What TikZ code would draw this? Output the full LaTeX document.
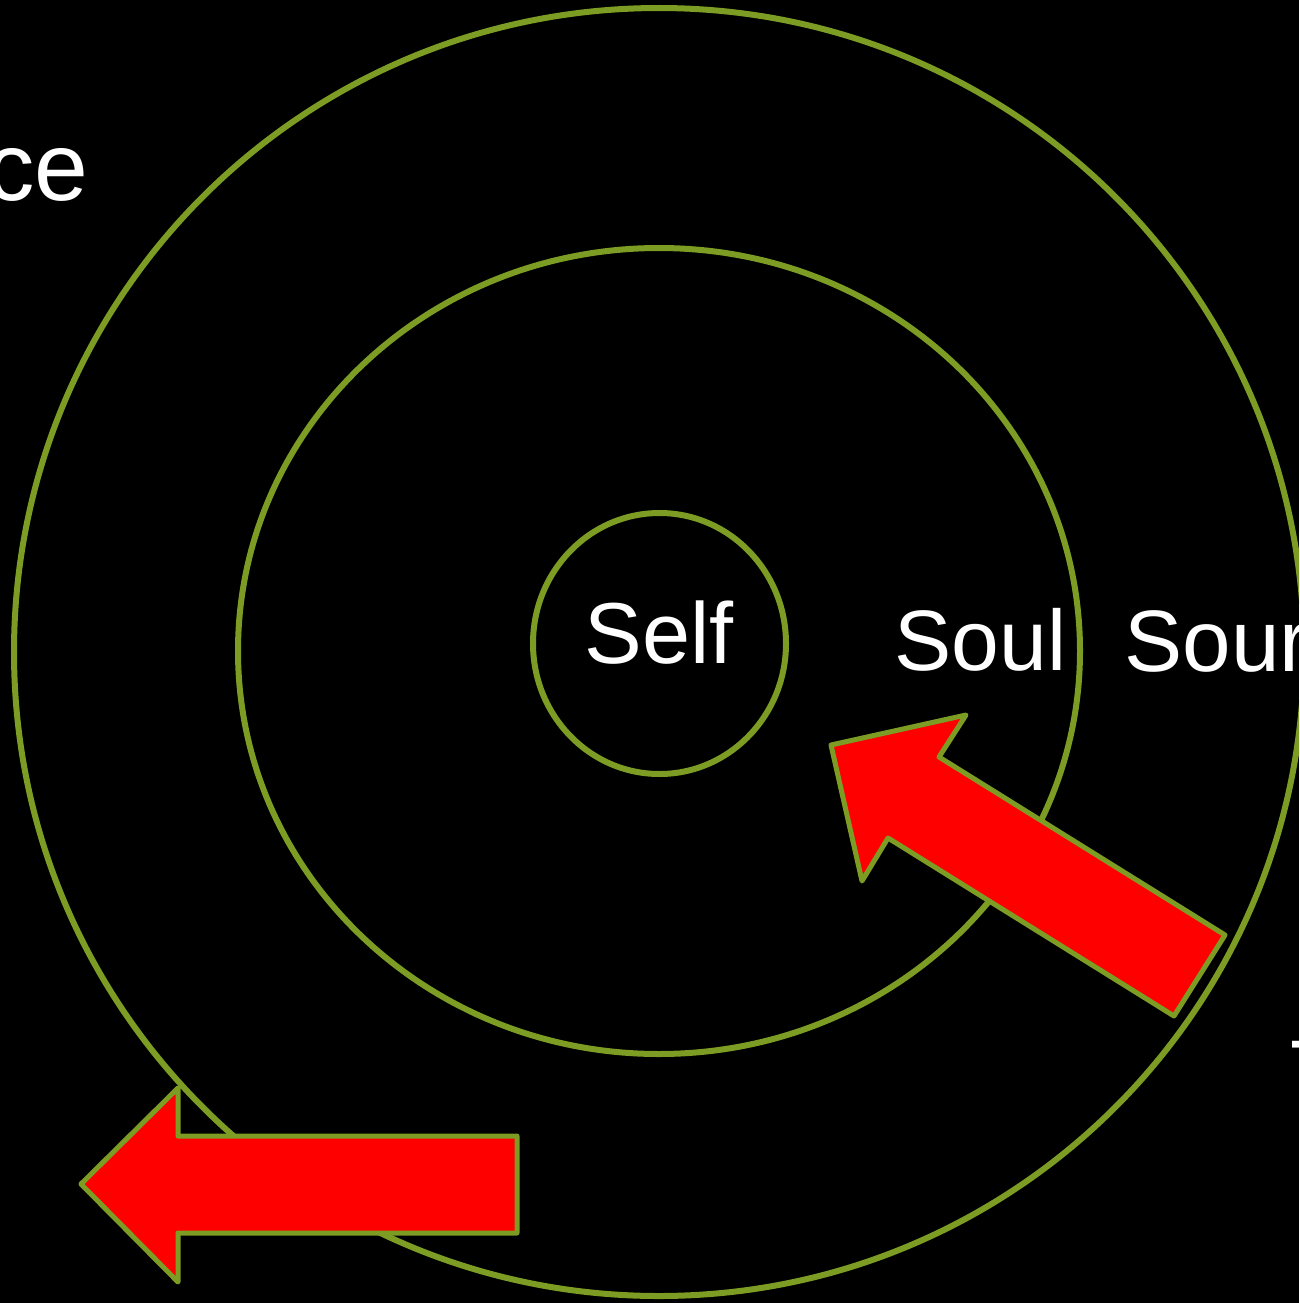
\documentclass[tikz,border=0pt]{standalone}
\usepackage{fontspec}
\setmainfont{Liberation Sans}
\definecolor{ringgreen}{RGB}{125,156,36}
\definecolor{arrowred}{RGB}{255,0,0}

\begin{document}
\begin{tikzpicture}[%
      x=0.01cm, y=-0.01cm,
      ring/.style={%
        draw       = ringgreen,
        line width = 0.06cm,
      },
      bigarrow/.style={%
        fill       = arrowred,
        draw       = ringgreen,
        line width = 0.05cm,
        line join  = round,
      },
      word/.style={%
        text       = white,
        inner sep  = 0pt,
        anchor     = base west,
      }
      ]

      % page with black ground
      \useasboundingbox (0,0) rectangle (1299,1303);
      \fill[black] (0,0) rectangle (1299,1303);
      \clip (0,0) rectangle (1299,1303);

      \draw[ring] (659,652) ellipse [x radius=645, y radius=644];
      \draw[ring] (659,651) ellipse [x radius=421, y radius=403];
      \draw[ring] (659.5,643.5) ellipse [x radius=126.5, y radius=130.5];

      \node[word] (self) at (584,663) {\fontsize{24.6pt}{29pt}\selectfont Self};
      \node[word] (soul) at (894,670) {\fontsize{24.4pt}{29pt}\selectfont Soul};
      \node[word] (sour) at (1124,671) {\fontsize{24.8pt}{30pt}\selectfont Sour};
      \node[word, anchor=base east] (ce) at (89,200) {\fontsize{27.5pt}{33pt}\selectfont ce};
      \node[word] (tee) at (1290,1102) {\fontsize{25.3pt}{30pt}\selectfont T};

      % arrows
      \draw[bigarrow] (831,745) -- (966,715) -- (939,757) -- (1225,935)
                   -- (1174,1016) -- (888,838) -- (862,881) -- cycle;
      \draw[bigarrow] (81,1184) -- (178,1088) -- (178,1136) -- (517,1136)
                   -- (517,1233) -- (178,1233) -- (178,1282) -- cycle;

    \end{tikzpicture}
\end{document}
